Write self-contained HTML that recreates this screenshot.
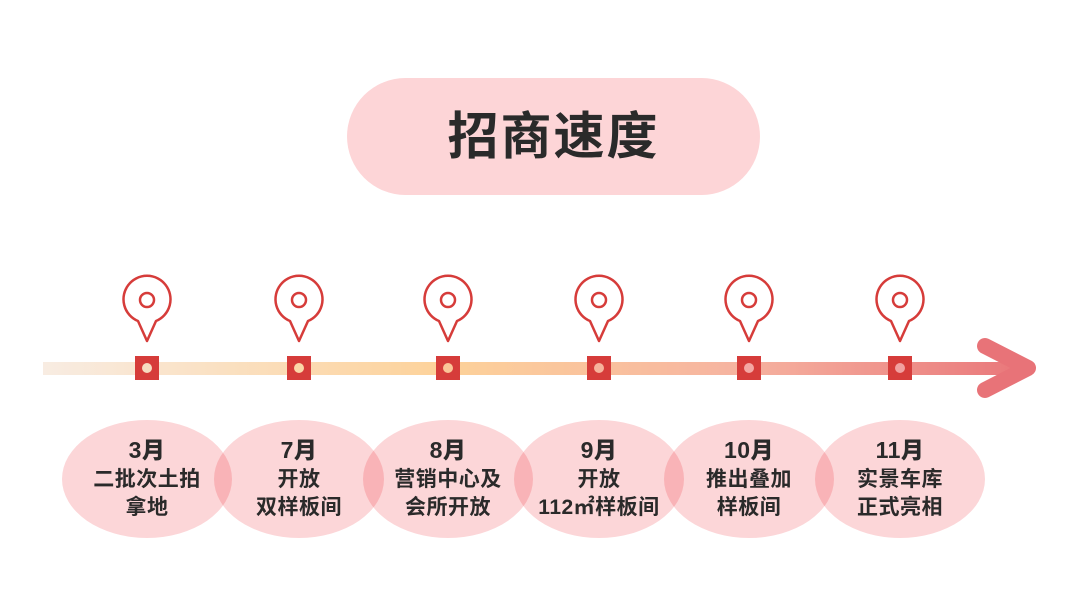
<!DOCTYPE html>
<html><head><meta charset="utf-8"><style>
body{margin:0;width:1080px;height:608px;background:#fff;position:relative;overflow:hidden;font-family:"Liberation Sans","Noto Sans CJK SC",sans-serif;}
.title{position:absolute;left:347px;top:78px;width:413px;height:117px;border-radius:59px;background:#fdd5d7;text-align:center;line-height:117px;font-size:51px;font-weight:bold;color:#2a2a2a;letter-spacing:2px;}
.el{position:absolute;top:420px;width:170px;height:118px;border-radius:50%;background:#fcd6d8;mix-blend-mode:multiply;}
.tx{position:absolute;top:434px;width:170px;text-align:center;font-weight:bold;color:#2a2a2a;font-size:21px;line-height:28px;letter-spacing:0.5px;}
.tx b{font-size:23px;display:block;line-height:32px;}
</style></head><body>
<div class="title">招商速度</div>
<svg width="1080" height="608" style="position:absolute;left:0;top:0">
<defs>
<linearGradient id="g" x1="43" x2="1040" y1="0" y2="0" gradientUnits="userSpaceOnUse">
<stop offset="0" stop-color="#f8ece2"/><stop offset="0.4" stop-color="#fdd29a"/><stop offset="0.7" stop-color="#f6b3a0"/><stop offset="1" stop-color="#e87378"/></linearGradient>
</defs>
<rect x="43" y="362" width="975" height="13" fill="url(#g)"/>
<polyline points="985,346 1028,368 985,390" fill="none" stroke="#e87378" stroke-width="16" stroke-linecap="round" stroke-linejoin="round"/>
</svg>
<script>
var xs=[147,299,448,599,749,900],cols=["#f7dcc0","#fbd7a8","#fbc597","#f6b39c","#f4a7a3","#f1a0a0"];
var s='';
xs.forEach(function(x,i){
s+='<path d="M'+(x-9)+',321 A23.5,23.5 0 1 1 '+(x+9)+',321 L'+x+',341 Z" fill="none" stroke="#d63c3a" stroke-width="2.5" stroke-linejoin="round"/>';
s+='<circle cx="'+x+'" cy="300" r="7" fill="none" stroke="#d63c3a" stroke-width="2.5"/>';
s+='<rect x="'+(x-12)+'" y="356" width="24" height="24" fill="#d63c3a"/><circle cx="'+x+'" cy="368" r="5" fill="'+cols[i]+'"/>';
});
document.querySelector('svg').insertAdjacentHTML('beforeend',s);
</script>
<div class="el" style="left:62px"></div>
<div class="el" style="left:214px"></div>
<div class="el" style="left:363px"></div>
<div class="el" style="left:514px"></div>
<div class="el" style="left:664px"></div>
<div class="el" style="left:815px"></div>
<div class="tx" style="left:62px"><b>3月</b>二批次土拍<br>拿地</div>
<div class="tx" style="left:214px"><b>7月</b>开放<br>双样板间</div>
<div class="tx" style="left:363px"><b>8月</b>营销中心及<br>会所开放</div>
<div class="tx" style="left:514px"><b>9月</b>开放<br>112㎡样板间</div>
<div class="tx" style="left:664px"><b>10月</b>推出叠加<br>样板间</div>
<div class="tx" style="left:815px"><b>11月</b>实景车库<br>正式亮相</div>
</body></html>
